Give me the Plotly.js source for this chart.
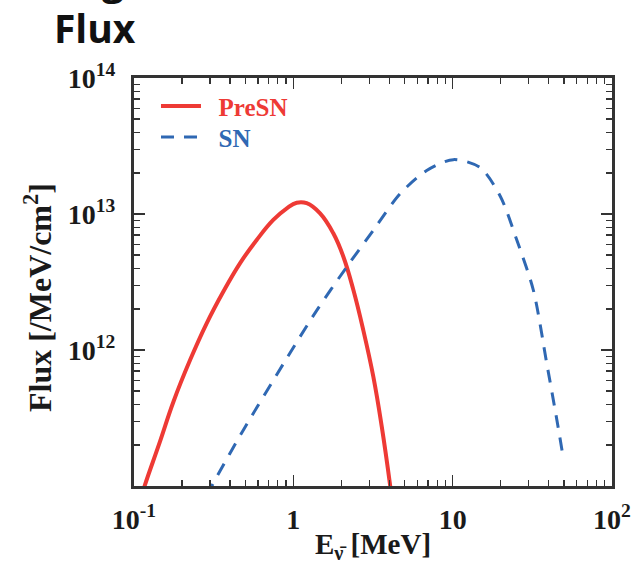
<!DOCTYPE html>
<html>
<head>
<meta charset="utf-8">
<script src="https://cdn.plot.ly/plotly-3.0.1.min.js"></script>
<style>html,body{margin:0;padding:0;background:#fff;}#chart{width:634px;height:564px;}</style>
</head>
<body>
<div id="chart"></div>
<script>
// PreSN flux (red solid)
const presnEnergy = [0.110, 0.1172, 0.1455, 0.1766, 0.2249, 0.2858, 0.3639, 0.4624, 0.5888, 0.7482, 0.9099, 1.050, 1.213, 1.472, 1.782, 2.061, 2.382, 2.748, 3.177, 3.589, 4.046, 4.15];
const presnFlux   = [8.0e10, 1.02e11, 2.12e11, 4.15e11, 8.43e11, 1.57e12, 2.69e12, 4.34e12, 6.44e12, 9.04e12, 1.10e13, 1.21e13, 1.20e13, 1.01e13, 7.21e12, 4.85e12, 2.76e12, 1.40e12, 6.37e11, 2.73e11, 1.02e11, 8.0e10];
// SN flux (blue dashed)
const snEnergy = [0.29, 0.308, 0.485, 0.865, 1.40, 2.16, 3.18, 4.68, 6.87, 10.1, 14.9, 19.9, 25.2, 32.1, 39.0, 45.0, 49.5];
const snFlux   = [8.5e10, 1.0e11, 2.57e11, 7.9e11, 1.95e12, 4.07e12, 7.6e12, 1.41e13, 2.09e13, 2.51e13, 2.19e13, 1.35e13, 6.5e12, 2.75e12, 7.9e11, 3.1e11, 1.6e11];
// tick labels
const xTickVals = [0.1, 1, 10, 100];
const xTickText = ['10<sup>-1</sup>', '1', '10', '10<sup>2</sup>'];
const yTickVals = [1e12, 1e13, 1e14];
const yTickText = ['10<sup>12</sup>', '10<sup>13</sup>', '10<sup>14</sup>'];

const red = '#ee3a35';
const blue = '#2f68b3';
const serif = 'Liberation Serif, Times New Roman, serif';

const traces = [
  {x: presnEnergy, y: presnFlux, mode: 'lines', type: 'scatter', legend: 'legend',
   name: '&nbsp;&nbsp;<span style="color:' + red + '">PreSN</span>',
   line: {color: red, width: 4, shape: 'spline', smoothing: 1.2}},
  {x: snEnergy, y: snFlux, mode: 'lines', type: 'scatter', legend: 'legend2',
   name: '&nbsp;&nbsp;<span style="color:' + blue + '">SN</span>',
   line: {color: blue, width: 3, dash: '13px,10px', shape: 'spline', smoothing: 0.8}}
];

const axisCommon = {
  type: 'log', showgrid: false, zeroline: false,
  showline: true, mirror: 'ticks', linecolor: '#333', linewidth: 3,
  ticks: 'inside', ticklen: 11, tickwidth: 1.5, tickcolor: '#333',
  tickfont: {family: serif, size: 28, color: '#1a1a1a', weight: 'bold'},
  minor: {ticks: 'inside', ticklen: 6, tickwidth: 1.2, tickcolor: '#333', dtick: 'D1', showgrid: false}
};

const legendCommon = {xanchor: 'left', yanchor: 'middle', bgcolor: 'rgba(0,0,0,0)',
  font: {family: serif, size: 25, weight: 'bold'}, itemwidth: 40};

const layout = {
  width: 634, height: 564,
  margin: {l: 134, r: 22, t: 78, b: 78},
  paper_bgcolor: '#fff', plot_bgcolor: '#fff',
  showlegend: true,
  title: {text: '<b>Flux</b>', font: {family: 'Open Sans, sans-serif', size: 39, color: '#111'},
          xref: 'container', yref: 'container', x: 0.085, xanchor: 'left', y: 0.948, yanchor: 'middle'},
  annotations: [
    {text: '<b>g</b>', xref: 'paper', yref: 'paper', x: -0.044, y: 1.172, xanchor: 'center', yanchor: 'bottom',
     showarrow: false, font: {family: 'Open Sans, sans-serif', size: 39, color: '#111'}},
    {text: '<b>Flux [/MeV/cm<sup>2</sup>]</b>', xref: 'paper', yref: 'paper', x: -0.201, y: 0.463,
     xanchor: 'center', yanchor: 'middle', textangle: -90, showarrow: false,
     font: {family: serif, size: 32, color: '#1a1a1a'}}
  ],
  xaxis: Object.assign({}, axisCommon, {
    range: [-1, 2], tickmode: 'array', tickvals: xTickVals, ticktext: xTickText,
    ticklabelstandoff: 6,
    title: {text: '<b>E<sub>ν̄</sub> [MeV]</b>', font: {family: serif, size: 29, color: '#1a1a1a'}, standoff: 2}
  }),
  yaxis: Object.assign({}, axisCommon, {
    range: [11, 14], tickmode: 'array', tickvals: yTickVals, ticktext: yTickText,
    ticklabelstandoff: 10
  }),
  legend: Object.assign({}, legendCommon, {x: 0.046, y: 0.931}),
  legend2: Object.assign({}, legendCommon, {x: 0.046, y: 0.855})
};

Plotly.newPlot('chart', traces, layout, {displayModeBar: false, staticPlot: true});
</script>
</body>
</html>
